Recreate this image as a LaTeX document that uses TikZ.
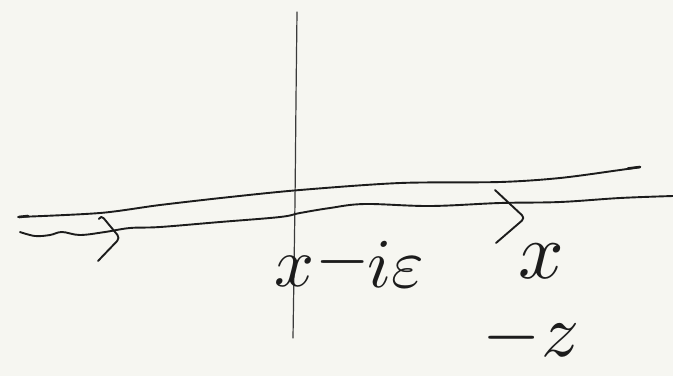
\documentclass[tikz,border=0pt]{standalone}
\definecolor{bgc}{HTML}{F6F6F1}
\definecolor{inkc}{HTML}{1C1C1C}
\definecolor{axisc}{HTML}{3A3A3A}
\begin{document}
\begin{tikzpicture}[x=1pt,y=-1pt,
  ink/.style={line width=1.9pt, color=inkc, line cap=round, line join=round},
  axisline/.style={line width=1.2pt, color=axisc, line cap=round},
  lbl/.style={inner sep=0pt, text=inkc, scale=7}]
\fill[bgc] (0,0) rectangle (673,376);
\useasboundingbox (0,0) rectangle (673,376);
% imaginary axis
\draw[axisline] plot[smooth] coordinates {(297,12) (296,100) (295,200) (293,338)};
% real axis (upper line)
\draw[ink] plot[smooth] coordinates {(18,217) (100,213) (160,205) (230,197) (300,190) (400,183) (500,182) (560,178) (620,170) (640,167)};
\draw[ink, line width=2.6pt] (19,217) -- (28,216);
\draw[ink, line width=2.6pt] (628,168.5) -- (640,167);
% contour (lower wavy line)
\draw[ink] plot[smooth, tension=0.6] coordinates {(20,232) (35,236) (50,235) (62,232) (80,235) (105,232) (130,228) (160,227) (220,222) (280,217) (300,213) (330,208) (365,204) (430,206) (500,203) (560,202) (620,198) (673,196)};
% direction chevrons
\draw[ink, rounded corners=4pt] (99,219) -- (101,215) -- (120,238) -- (98,261);
\draw[ink, rounded corners=4pt] (495,190) -- (525,218) -- (496,243);
% labels
\node[lbl] (xa) at (295,271) {$x$};
\node[lbl] (mi) at (343,262) {$-$};
\node[lbl] (ie) at (396,264) {$i\varepsilon$};
\node[lbl, scale=8/7] (xb) at (541,261) {$x$};
\node[lbl, scale=7.5/7] (mz) at (531,338) {$-z$};
\end{tikzpicture}
\end{document}
